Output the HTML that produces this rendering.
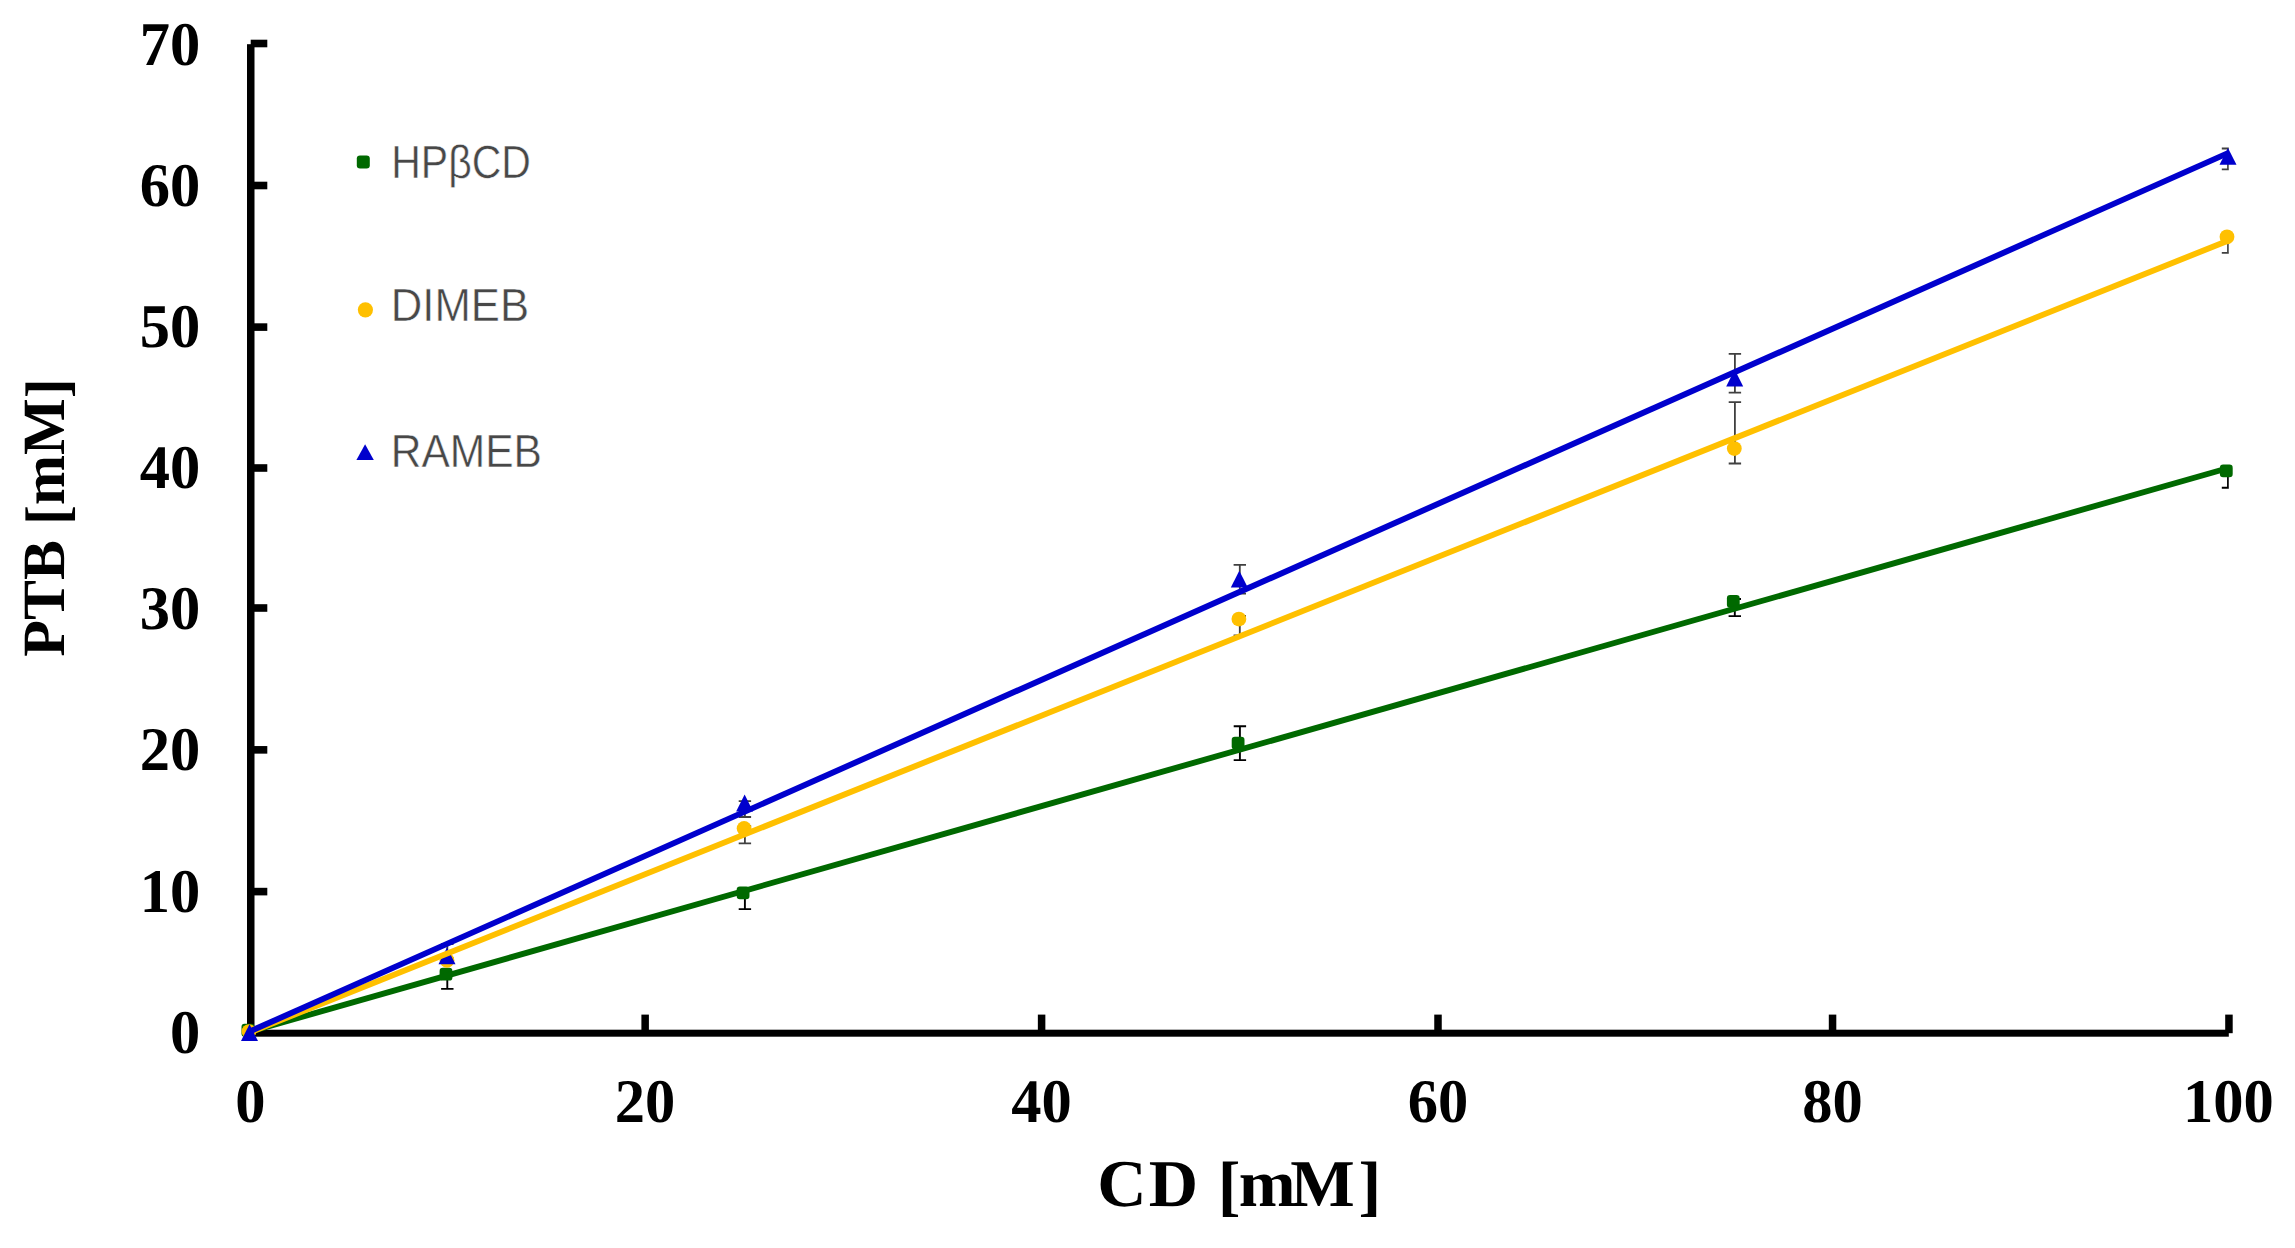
<!DOCTYPE html>
<html lang="en"><head><meta charset="utf-8"><title>Phase solubility</title>
<style>
html,body{margin:0;padding:0;background:#fff;}
body{width:2295px;height:1248px;overflow:hidden;}
svg{display:block;text-rendering:geometricPrecision;}
.tick{font-family:"Liberation Serif",serif;font-weight:bold;font-size:62.1px;fill:#000;}
.xt{font-family:"Liberation Serif",serif;font-weight:bold;font-size:67px;fill:#000;}
.yt{font-family:"Liberation Serif",serif;font-weight:bold;font-size:60px;fill:#000;}
.leg{font-family:"Liberation Sans","DejaVu Sans",sans-serif;font-size:46.7px;fill:#484848;stroke:#fff;stroke-width:0.5px;}
</style></head><body>
<svg width="2295" height="1248" viewBox="0 0 2295 1248">
<rect width="2295" height="1248" fill="#fff"/>

<g fill="#000">
<rect x="247" y="44.2" width="7.5" height="992.5"/>
<rect x="247" y="1029.7" width="1981.8" height="7"/>
<rect x="250.7" y="887.80" width="16.6" height="7.6"/>
<rect x="250.7" y="746.05" width="16.6" height="7.6"/>
<rect x="250.7" y="604.20" width="16.6" height="7.6"/>
<rect x="250.7" y="464.20" width="16.6" height="7.6"/>
<rect x="250.7" y="323.30" width="16.6" height="7.6"/>
<rect x="250.7" y="181.70" width="16.6" height="7.6"/>
<rect x="250.7" y="39.70" width="16.6" height="7.6"/>
<rect x="641.40" y="1014.6" width="7.5" height="18.6"/>
<rect x="1037.85" y="1014.6" width="7.5" height="18.6"/>
<rect x="1434.25" y="1014.6" width="7.5" height="18.6"/>
<rect x="1828.80" y="1014.6" width="7.5" height="18.6"/>
<rect x="2225.20" y="1014.6" width="7.5" height="18.6"/>
</g>
<g class="tick" text-anchor="end">
<text transform="translate(200.2,1052.67) scale(0.975,1)">0</text>
<text transform="translate(200.2,912.02) scale(0.975,1)">10</text>
<text transform="translate(200.2,770.27) scale(0.975,1)">20</text>
<text transform="translate(200.2,628.87) scale(0.975,1)">30</text>
<text transform="translate(200.2,488.22) scale(0.975,1)">40</text>
<text transform="translate(200.2,346.92) scale(0.975,1)">50</text>
<text transform="translate(200.2,205.97) scale(0.975,1)">60</text>
<text transform="translate(200.2,64.92) scale(0.975,1)">70</text>
</g>
<g class="tick" text-anchor="middle">
<text transform="translate(250.5,1122.1) scale(0.975,1)">0</text>
<text transform="translate(645.1,1122.1) scale(0.975,1)">20</text>
<text transform="translate(1041.6,1122.1) scale(0.975,1)">40</text>
<text transform="translate(1438.0,1122.1) scale(0.975,1)">60</text>
<text transform="translate(1832.5,1122.1) scale(0.975,1)">80</text>
<text transform="translate(2228.4,1122.1) scale(0.975,1)">100</text>
</g>
<text class="xt" text-anchor="middle" transform="translate(1238.7,1205.6) scale(1.02,1)" dx="0.6 2.1 0 2.5 -1.9 -5.3 3.8" dy="0 0 0 2.3 -2.3 0 2.3">CD [mM]</text>
<text class="yt" text-anchor="middle" transform="translate(64.4,517.5) rotate(-90)" dy="0 0 0 0 3 -3 0 3">PTB [mM]</text>
<defs><clipPath id="pc"><rect x="230" y="20" width="1998.8" height="1040"/></clipPath></defs>
<g clip-path="url(#pc)">
<path d="M447.3 972.5V988.9M441.1 972.5h12.4M441.1 988.9h12.4" stroke="#000" stroke-width="1.9" fill="none"/>
<path d="M744.9 891.0V909.1M738.7 891.0h12.4M738.7 909.1h12.4" stroke="#000" stroke-width="1.9" fill="none"/>
<path d="M1239.9 726.3V760.1M1233.7 726.3h12.4M1233.7 760.1h12.4" stroke="#000" stroke-width="1.9" fill="none"/>
<path d="M1734.8 599.0V616.1M1728.6 599.0h12.4M1728.6 616.1h12.4" stroke="#000" stroke-width="1.9" fill="none"/>
<path d="M2228.0 469.0V487.7M2221.8 469.0h12.4M2221.8 487.7h12.4" stroke="#000" stroke-width="1.9" fill="none"/>
</g>
<rect x="241.5" y="1023.8" width="13" height="13" rx="3" fill="#006900"/>
<rect x="439.6" y="967.8" width="12.8" height="12.8" rx="3.2" fill="#006900"/>
<rect x="736.7" y="886.4" width="12.8" height="12.8" rx="3.2" fill="#006900"/>
<rect x="1231.7" y="736.7" width="12.8" height="12.8" rx="3.2" fill="#006900"/>
<rect x="1726.9" y="595.0" width="12.8" height="12.8" rx="3.2" fill="#006900"/>
<rect x="2219.9" y="464.5" width="12.8" height="12.8" rx="3.2" fill="#006900"/>
<g clip-path="url(#pc)">
<path d="M447.3 958.0V963.0M441.1 958.0h12.4M441.1 963.0h12.4" stroke="#404040" stroke-width="1.8" fill="none"/>
<path d="M744.9 826.0V843.4M738.7 826.0h12.4M738.7 843.4h12.4" stroke="#404040" stroke-width="1.8" fill="none"/>
<path d="M1239.8 616.0V635.3M1233.6 616.0h12.4M1233.6 635.3h12.4" stroke="#404040" stroke-width="1.8" fill="none"/>
<path d="M1734.9 402.1V463.5M1728.7 402.1h12.4M1728.7 463.5h12.4" stroke="#404040" stroke-width="1.8" fill="none"/>
<path d="M2228.0 234.0V252.8M2221.8 234.0h12.4M2221.8 252.8h12.4" stroke="#404040" stroke-width="1.8" fill="none"/>
</g>
<circle cx="249" cy="1031.6" r="7.4" fill="#FFC000"/>
<circle cx="447.0" cy="960.3" r="7.4" fill="#FFC000"/>
<circle cx="744.1" cy="828.5" r="7.4" fill="#FFC000"/>
<circle cx="1238.9" cy="619.1" r="7.4" fill="#FFC000"/>
<circle cx="1734.3" cy="448.6" r="7.4" fill="#FFC000"/>
<circle cx="2227.0" cy="236.8" r="7.4" fill="#FFC000"/>
<g clip-path="url(#pc)">
<path d="M447.3 944.0V962.0M441.1 944.0h12.4M441.1 962.0h12.4" stroke="#404040" stroke-width="1.8" fill="none"/>
<path d="M744.9 801.1V817.0M738.7 801.1h12.4M738.7 817.0h12.4" stroke="#404040" stroke-width="1.8" fill="none"/>
<path d="M1239.8 564.8V593.7M1233.6 564.8h12.4M1233.6 593.7h12.4" stroke="#404040" stroke-width="1.8" fill="none"/>
<path d="M1734.9 353.8V392.7M1728.7 353.8h12.4M1728.7 392.7h12.4" stroke="#404040" stroke-width="1.8" fill="none"/>
<path d="M2228.0 148.5V169.3M2221.8 148.5h12.4M2221.8 169.3h12.4" stroke="#404040" stroke-width="1.8" fill="none"/>
</g>
<path d="M447.0 947.4L455.5 964.2H438.5Z" fill="#0000CD"/>
<path d="M744.6 794.6L753.1 811.4H736.1Z" fill="#0000CD"/>
<path d="M1239.3 570.8L1247.8 587.6H1230.8Z" fill="#0000CD"/>
<path d="M1734.7 369.6L1743.2 386.4H1726.2Z" fill="#0000CD"/>
<path d="M2228.0 147.9L2236.5 164.7H2219.5Z" fill="#0000CD"/>
<g stroke-width="5.9" fill="none" stroke-linecap="butt">
<line x1="250.5" y1="1031.5" x2="2228.5" y2="468.0" stroke="#006900"/>
<line x1="250.5" y1="1032.2" x2="2228.5" y2="240.5" stroke="#FFC000"/>
<line x1="250.5" y1="1031.1" x2="2228.5" y2="152.9" stroke="#0000CD"/>
</g>
<path d="M249.5 1024.3L258.0 1041.1H241.0Z" fill="#0000CD"/>
<rect x="356.8" y="155.4" width="13" height="13" rx="3.2" fill="#006900"/>
<circle cx="365.4" cy="309.8" r="7.6" fill="#FFC000"/>
<path d="M365.1 444.2L373.8 460H356.4Z" fill="#0000CD"/>
<g class="leg">
<text x="391.2" y="178.4" textLength="139.8" lengthAdjust="spacingAndGlyphs">HPβCD</text>
<text x="390.7" y="321.2" textLength="138.4" lengthAdjust="spacingAndGlyphs">DIMEB</text>
<text x="390.7" y="466.7" textLength="151.2" lengthAdjust="spacingAndGlyphs">RAMEB</text>
</g>
</svg></body></html>
